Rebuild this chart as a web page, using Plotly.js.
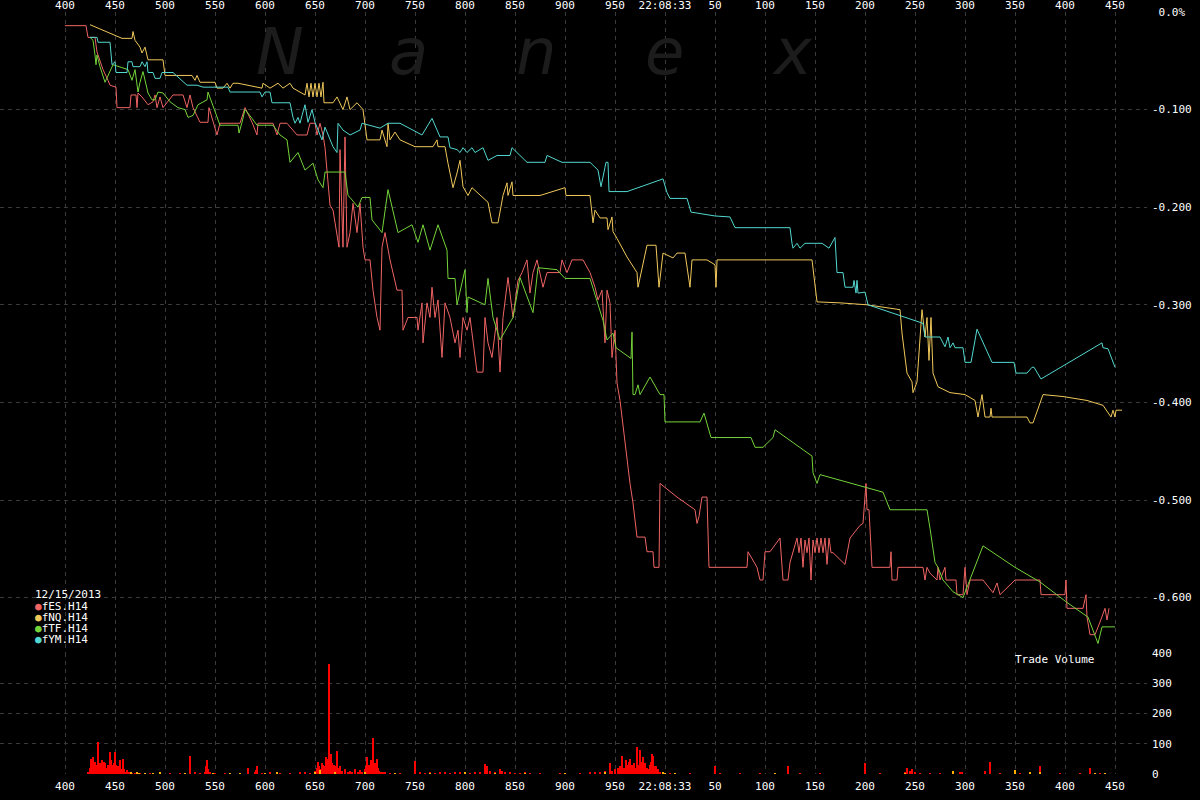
<!DOCTYPE html>
<html>
<head>
<meta charset="utf-8">
<script src="https://cdn.plot.ly/plotly-3.0.1.min.js"></script>
<style>html,body{margin:0;padding:0;background:#000;}#chart{width:1200px;height:800px;}</style>
</head>
<body>
<div id="chart"></div>
<script>
// ---- time axis: milliseconds after 22:08:32 ----
const xTickVals = [400,450,500,550,600,650,700,750,800,850,900,950,1000,1050,1100,1150,1200,1250,1300,1350,1400,1450];
const xTickText = ['400','450','500','550','600','650','700','750','800','850','900','950','22:08:33','50','100','150','200','250','300','350','400','450'];
const pctTickVals = [0,-0.1,-0.2,-0.3,-0.4,-0.5,-0.6];
const pctTickText = ['\u00a00.0%','-0.100','-0.200','-0.300','-0.400','-0.500','-0.600'];
const volTickVals = [0,100,200,300,400];
const volTickText = ['0','100','200','300','400'];

const seriesNames = ['fES.H14','fNQ.H14','fTF.H14','fYM.H14'];
const dateLabel = '12/15/2013';

// fES.H14 (% change)
const esT = [400,421,423,430,432,435,438,443,445,451,
452,465,466,471,472,473,477,483,488,490,
492,495,498,508,518,522,525,528,535,543,
544,552,555,575,580,587,592,593,608,612,
615,622,632,642,645,650,652,655,658,660,
665,668,674,675,678,680,682,685,688,692,
695,698,700,705,708,712,715,717,720,725,
732,737,738,743,752,753,757,758,762,765,
767,770,773,777,780,785,790,793,795,798,
802,805,808,812,818,820,823,827,832,835,
838,843,848,853,857,862,865,868,872,878,
882,895,897,902,907,918,925,930,933,937,
940,942,945,947,950,952,955,958,962,965,
968,972,980,982,988,989,994,995,1012,1030,
1032,1034,1037,1042,1044,1082,1083,1092,1095,1098,
1100,1105,1115,1118,1123,1125,1132,1134,1136,1138,
1140,1142,1144,1146,1148,1150,1152,1154,1156,1158,
1160,1162,1164,1166,1168,1180,1185,1195,1198,1199,
1201,1202,1204,1207,1225,1226,1227,1232,1233,1258,
1260,1262,1265,1272,1273,1275,1280,1281,1291,1292,
1298,1300,1302,1305,1318,1328,1332,1335,1350,1375,
1376,1400,1401,1402,1418,1421,1422,1425,1430,1435,
1440,1442,1444];
const esY = [-0.014,-0.014,-0.026,-0.026,-0.041,-0.049,-0.059,-0.070,-0.075,-0.077,
-0.098,-0.098,-0.085,-0.085,-0.098,-0.083,-0.087,-0.095,-0.092,-0.085,
-0.098,-0.087,-0.098,-0.085,-0.085,-0.098,-0.085,-0.098,-0.113,-0.113,
-0.098,-0.126,-0.114,-0.114,-0.098,-0.113,-0.126,-0.114,-0.114,-0.126,
-0.114,-0.114,-0.126,-0.126,-0.114,-0.114,-0.126,-0.114,-0.126,-0.139,
-0.198,-0.203,-0.241,-0.141,-0.241,-0.128,-0.241,-0.226,-0.196,-0.226,
-0.196,-0.241,-0.254,-0.254,-0.285,-0.313,-0.326,-0.241,-0.226,-0.254,
-0.285,-0.285,-0.326,-0.313,-0.313,-0.326,-0.298,-0.339,-0.298,-0.313,
-0.282,-0.313,-0.295,-0.354,-0.298,-0.313,-0.339,-0.326,-0.354,-0.313,
-0.326,-0.313,-0.339,-0.369,-0.369,-0.313,-0.339,-0.354,-0.313,-0.369,
-0.313,-0.272,-0.313,-0.275,-0.267,-0.254,-0.288,-0.267,-0.254,-0.282,
-0.267,-0.267,-0.254,-0.267,-0.254,-0.254,-0.267,-0.282,-0.295,-0.285,
-0.339,-0.285,-0.298,-0.354,-0.326,-0.380,-0.398,-0.425,-0.456,-0.483,
-0.503,-0.538,-0.538,-0.553,-0.553,-0.569,-0.569,-0.483,-0.497,-0.510,
-0.524,-0.517,-0.497,-0.497,-0.569,-0.569,-0.553,-0.569,-0.582,-0.582,
-0.553,-0.553,-0.539,-0.582,-0.582,-0.564,-0.539,-0.554,-0.539,-0.569,
-0.541,-0.554,-0.539,-0.582,-0.541,-0.554,-0.539,-0.554,-0.539,-0.554,
-0.539,-0.566,-0.539,-0.554,-0.554,-0.566,-0.539,-0.526,-0.524,-0.510,
-0.483,-0.510,-0.510,-0.569,-0.569,-0.553,-0.582,-0.582,-0.569,-0.569,
-0.582,-0.569,-0.575,-0.582,-0.569,-0.582,-0.569,-0.582,-0.582,-0.597,
-0.597,-0.569,-0.597,-0.582,-0.582,-0.595,-0.585,-0.597,-0.582,-0.582,
-0.597,-0.597,-0.582,-0.611,-0.611,-0.597,-0.620,-0.638,-0.638,-0.625,
-0.611,-0.623,-0.611];

// fNQ.H14
const nqT = [425,457,467,468,470,475,477,480,483,498,
500,527,530,532,535,550,552,558,562,565,
568,573,597,598,605,613,618,625,628,640,
642,644,646,648,650,652,654,656,658,659,
668,672,678,682,685,692,698,702,715,717,
722,723,725,730,735,750,768,772,773,780,
783,788,792,795,798,803,807,815,823,827,
833,838,842,843,847,848,875,900,901,925,
928,930,935,942,943,947,948,952,962,972,
973,982,991,994,998,1008,1012,1020,1025,1027,
1042,1050,1051,1052,1147,1152,1175,1202,1235,1237,
1242,1247,1248,1252,1257,1260,1262,1264,1266,1268,
1271,1273,1285,1300,1310,1313,1317,1320,1325,1326,
1327,1362,1365,1368,1378,1398,1422,1438,1446,1448,
1450,1451,1457];
const nqY = [-0.013,-0.027,-0.027,-0.020,-0.029,-0.036,-0.042,-0.036,-0.049,-0.049,
-0.065,-0.065,-0.070,-0.065,-0.072,-0.072,-0.078,-0.078,-0.073,-0.078,
-0.073,-0.073,-0.078,-0.073,-0.078,-0.073,-0.078,-0.073,-0.078,-0.085,
-0.073,-0.087,-0.073,-0.087,-0.073,-0.087,-0.073,-0.087,-0.072,-0.093,
-0.093,-0.087,-0.100,-0.087,-0.100,-0.093,-0.100,-0.131,-0.131,-0.121,
-0.138,-0.114,-0.131,-0.123,-0.131,-0.138,-0.138,-0.131,-0.138,-0.138,
-0.155,-0.180,-0.165,-0.152,-0.179,-0.188,-0.180,-0.188,-0.195,-0.216,
-0.216,-0.188,-0.175,-0.188,-0.174,-0.188,-0.188,-0.180,-0.188,-0.188,
-0.216,-0.203,-0.211,-0.211,-0.223,-0.210,-0.225,-0.232,-0.251,-0.267,
-0.282,-0.239,-0.239,-0.282,-0.247,-0.252,-0.247,-0.247,-0.282,-0.254,
-0.254,-0.259,-0.282,-0.254,-0.254,-0.297,-0.298,-0.300,-0.305,-0.329,
-0.370,-0.379,-0.390,-0.379,-0.305,-0.333,-0.313,-0.357,-0.313,-0.370,
-0.379,-0.384,-0.390,-0.392,-0.398,-0.415,-0.392,-0.415,-0.415,-0.406,
-0.415,-0.415,-0.421,-0.421,-0.392,-0.394,-0.398,-0.403,-0.415,-0.408,
-0.415,-0.408,-0.408];

// fTF.H14
const tfT = [425,428,430,431,432,435,440,445,448,463,
467,470,473,475,478,483,487,490,493,498,
505,513,520,523,528,533,542,543,552,555,
573,574,577,580,587,592,608,615,622,625,
633,640,648,653,658,660,680,683,685,693,
697,705,707,717,723,733,747,753,758,765,
773,782,783,790,792,800,802,803,820,823,
828,835,848,855,868,873,892,900,925,932,
938,942,948,951,966,967,968,970,973,975,
985,995,999,1000,1035,1039,1046,1086,1090,1098,
1108,1110,1147,1148,1152,1155,1218,1225,1262,1265,
1270,1273,1278,1288,1298,1318,1350,1375,1402,1423,
1428,1433,1437,1450];
const tfY = [-0.026,-0.029,-0.044,-0.054,-0.044,-0.056,-0.072,-0.061,-0.054,-0.059,
-0.070,-0.059,-0.082,-0.072,-0.061,-0.083,-0.090,-0.090,-0.082,-0.083,
-0.092,-0.098,-0.100,-0.108,-0.106,-0.095,-0.090,-0.082,-0.106,-0.116,
-0.116,-0.124,-0.113,-0.100,-0.109,-0.116,-0.116,-0.126,-0.131,-0.154,
-0.144,-0.162,-0.155,-0.172,-0.180,-0.164,-0.164,-0.188,-0.190,-0.200,
-0.190,-0.190,-0.213,-0.226,-0.182,-0.226,-0.218,-0.236,-0.218,-0.244,
-0.218,-0.244,-0.273,-0.273,-0.300,-0.264,-0.308,-0.292,-0.300,-0.273,
-0.313,-0.336,-0.313,-0.272,-0.308,-0.262,-0.264,-0.273,-0.273,-0.295,
-0.316,-0.336,-0.329,-0.344,-0.355,-0.328,-0.392,-0.392,-0.382,-0.392,
-0.374,-0.392,-0.392,-0.420,-0.420,-0.411,-0.436,-0.436,-0.446,-0.446,
-0.436,-0.428,-0.455,-0.472,-0.483,-0.474,-0.492,-0.510,-0.510,-0.529,
-0.564,-0.569,-0.582,-0.594,-0.600,-0.547,-0.569,-0.584,-0.605,-0.620,
-0.633,-0.647,-0.630,-0.630];

// fYM.H14
const ymT = [425,432,433,445,447,450,451,462,463,467,
468,475,477,480,482,483,488,490,495,497,
508,522,532,538,563,565,595,597,600,605,
607,625,628,630,633,635,637,640,643,647,
650,657,660,668,672,673,678,685,695,697,
715,723,735,757,767,775,783,785,792,795,
798,802,807,810,818,823,832,845,847,862,
880,882,897,925,933,936,940,941,943,944,
962,998,1002,1005,1022,1026,1050,1065,1070,1125,
1127,1128,1132,1135,1140,1157,1164,1170,1172,1178,
1180,1188,1189,1191,1192,1193,1200,1203,1258,1260,
1275,1280,1283,1285,1288,1290,1298,1300,1306,1312,
1327,1349,1351,1362,1367,1369,1376,1437,1438,1443,
1450];
const ymY = [-0.026,-0.026,-0.031,-0.031,-0.054,-0.051,-0.062,-0.062,-0.051,-0.051,
-0.056,-0.056,-0.051,-0.056,-0.051,-0.062,-0.062,-0.068,-0.068,-0.062,
-0.062,-0.075,-0.075,-0.077,-0.077,-0.082,-0.082,-0.087,-0.082,-0.082,
-0.093,-0.093,-0.108,-0.114,-0.108,-0.114,-0.106,-0.095,-0.113,-0.100,
-0.113,-0.131,-0.118,-0.138,-0.144,-0.114,-0.121,-0.126,-0.121,-0.114,
-0.119,-0.114,-0.114,-0.126,-0.109,-0.128,-0.128,-0.139,-0.141,-0.144,
-0.139,-0.144,-0.139,-0.144,-0.139,-0.152,-0.147,-0.147,-0.139,-0.154,
-0.154,-0.147,-0.154,-0.154,-0.162,-0.179,-0.159,-0.154,-0.154,-0.184,
-0.184,-0.171,-0.185,-0.191,-0.191,-0.205,-0.209,-0.210,-0.221,-0.221,
-0.237,-0.242,-0.237,-0.242,-0.237,-0.237,-0.242,-0.231,-0.267,-0.267,
-0.282,-0.282,-0.275,-0.288,-0.275,-0.288,-0.287,-0.300,-0.319,-0.333,
-0.333,-0.343,-0.333,-0.344,-0.339,-0.344,-0.344,-0.359,-0.359,-0.325,
-0.359,-0.359,-0.370,-0.370,-0.364,-0.364,-0.376,-0.339,-0.344,-0.345,
-0.364];

// Trade volume (red and yellow bars)
const volRedT = [423,425,426,427,428,429,430,431,432,433,
434,435,436,437,438,439,440,441,442,443,
444,445,446,447,448,449,450,451,452,453,
454,455,456,457,458,459,460,462,464,467,
470,475,485,495,505,515,525,530,535,540,
541,542,543,545,550,560,583,590,591,592,
597,605,615,625,635,640,645,650,652,653,
654,655,657,658,660,661,662,663,664,665,
666,667,668,669,670,671,672,673,674,675,
677,680,683,685,687,690,693,695,697,700,
701,702,703,704,705,706,707,708,709,710,
711,712,713,714,716,718,720,725,735,750,
755,760,765,770,775,780,785,790,795,800,
805,810,815,820,822,825,830,835,837,840,
845,850,855,860,865,875,895,915,925,930,
935,940,945,947,950,953,955,957,959,961,
962,963,964,965,967,969,971,972,973,975,
976,977,978,980,982,984,985,986,987,988,
989,991,993,995,1005,1025,1050,1055,1075,1095,
1123,1135,1155,1200,1215,1240,1242,1245,1247,1250,
1255,1265,1275,1295,1297,1320,1325,1335,1355,1365,
1375,1395,1415,1425,1435];
const volRed = [5,20,50,30,55,25,40,15,30,107,
30,35,25,45,20,40,35,20,15,30,
25,73,45,30,20,35,73,30,15,25,
20,45,15,10,50,15,8,12,6,4,
3,2,2,3,2,2,60,5,2,8,
25,45,15,8,3,2,20,8,12,25,
3,5,4,2,5,8,4,10,20,40,
25,15,35,30,25,55,50,30,365,60,
65,35,25,30,15,25,77,20,15,25,
10,15,8,10,6,15,8,12,5,15,
25,57,20,30,15,45,20,120,25,35,
15,50,20,10,5,8,5,3,2,43,
5,3,8,4,6,5,3,8,6,5,
4,8,5,33,25,10,5,15,10,8,
5,3,3,5,3,2,2,3,5,6,
8,10,35,10,15,20,25,58,20,45,
25,30,40,50,30,35,20,90,30,80,
40,25,55,35,20,15,30,40,67,60,
25,25,15,5,2,2,25,3,2,3,
27,4,3,35,3,7,20,10,17,6,
4,3,4,5,8,10,40,3,4,8,
25,2,3,20,2];
const volYelT = [466,472,474,480,488,495,520,548,565,575,
600,612,650,655,670,700,730,765,800,830,
860,900,940,998,1000,1010,1110,1240,1288,1350,
1365,1375,1430,1440];
const volYel = [8,5,3,3,4,5,3,3,4,3,
3,5,5,12,8,5,3,4,5,4,
3,2,5,8,4,3,2,4,10,13,
8,6,3,3];

const colors = ['#f06464','#f0c85a','#74d43a','#52d8d0'];
const tickFont = {family:'DejaVu Sans Mono, monospace', size:11, color:'#ffffff'};
const gridCol = '#3a3a3a';

const traces = [
  {x:esT, y:esY, name:seriesNames[0], type:'scatter', mode:'lines', line:{color:colors[0], width:1}, xaxis:'x', yaxis:'y'},
  {x:nqT, y:nqY, name:seriesNames[1], type:'scatter', mode:'lines', line:{color:colors[1], width:1}, xaxis:'x', yaxis:'y'},
  {x:tfT, y:tfY, name:seriesNames[2], type:'scatter', mode:'lines', line:{color:colors[2], width:1}, xaxis:'x', yaxis:'y'},
  {x:ymT, y:ymY, name:seriesNames[3], type:'scatter', mode:'lines', line:{color:colors[3], width:1}, xaxis:'x', yaxis:'y'},
  {x:volRedT, y:volRed, type:'bar', width:1.4, marker:{color:'#ff0000', line:{width:0}}, xaxis:'x2', yaxis:'y2'},
  {x:volYelT, y:volYel, type:'bar', width:1.4, marker:{color:'#ffb000', line:{width:0}}, xaxis:'x2', yaxis:'y2'}
];

// geometry (plot area 0..1147 px wide, 12..774 px tall)
const volTop = 121/762;

const axisCommon = {
  showgrid:true, gridcolor:gridCol, griddash:'4px,4px', gridwidth:1,
  zeroline:false, showline:false, ticks:'', tickfont:tickFont, fixedrange:true
};

const annotations = [];
const wm = ['N','a','n','e','x'];
const wmX = [280,408,536,664,792];
for (let i=0;i<wm.length;i++){
  annotations.push({xref:'paper', yref:'paper', x:wmX[i]/1147, y:(774-52)/762, xanchor:'center', yanchor:'middle',
    text:wm[i], showarrow:false, font:{family:'DejaVu Sans, sans-serif', size:64, color:'#1c1c1c', style:'italic'}});
}
annotations.push({xref:'paper', yref:'paper', x:33/1147, y:(774-594)/762, xanchor:'left', yanchor:'middle',
  text:dateLabel, showarrow:false, font:tickFont});
const legY = [606,617,628,639];
for (let i=0;i<seriesNames.length;i++){
  annotations.push({xref:'paper', yref:'paper', x:33/1147, y:(774-legY[i])/762, xanchor:'left', yanchor:'middle',
    text:'<span style="color:'+colors[i]+'">\u25cf</span>'+seriesNames[i], showarrow:false, font:tickFont});
}
annotations.push({xref:'paper', yref:'paper', x:1013/1147, y:(774-659)/762, xanchor:'left', yanchor:'middle',
  text:'Trade Volume', showarrow:false, font:tickFont});

const layout = {
  width:1200, height:800,
  margin:{l:0, r:53, t:12, b:26, pad:0},
  paper_bgcolor:'#000000', plot_bgcolor:'#000000',
  showlegend:false, hovermode:false, barmode:'overlay', bargap:0,
  xaxis: Object.assign({}, axisCommon, {range:[335,1482], side:'top', anchor:'y', tickmode:'array', tickvals:xTickVals, ticktext:xTickText, ticklabelstandoff:0}),
  xaxis2: Object.assign({}, axisCommon, {matches:'x', range:[335,1482], side:'bottom', anchor:'y2', tickmode:'array', tickvals:xTickVals, ticktext:xTickText, ticklabelstandoff:4}),
  yaxis: Object.assign({}, axisCommon, {domain:[volTop,1], range:[-(653-12)/976, 0], side:'right', anchor:'x', tickmode:'array', tickvals:pctTickVals, ticktext:pctTickText, ticklabelstandoff:4}),
  yaxis2: Object.assign({}, axisCommon, {domain:[0,volTop], range:[0,400], side:'right', anchor:'x2', tickmode:'array', tickvals:volTickVals, ticktext:volTickText, ticklabelstandoff:4}),
  annotations: annotations
};

Plotly.newPlot('chart', traces, layout, {displayModeBar:false, staticPlot:true});
</script>
</body>
</html>
